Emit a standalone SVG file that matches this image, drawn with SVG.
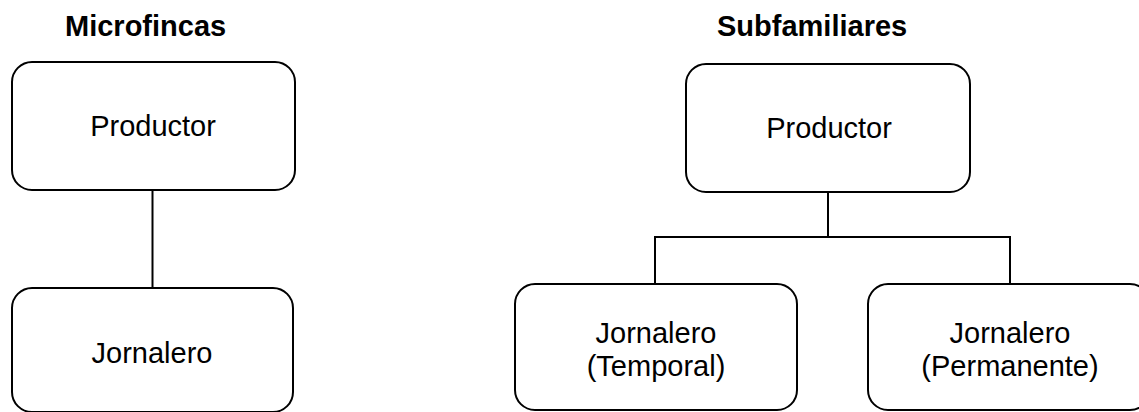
<svg xmlns="http://www.w3.org/2000/svg" width="1139" height="412" viewBox="0 0 1139 412">
<style>
.box{fill:#fff;stroke:#000;stroke-width:2}
.lbl{font-family:"Liberation Sans",Arial,sans-serif;font-size:29px;fill:#000;text-anchor:middle}
.title{font-family:"Liberation Sans",Arial,sans-serif;font-size:29px;font-weight:bold;fill:#000}
.conn{fill:none;stroke:#000;stroke-width:2}
</style>
<rect width="1139" height="412" fill="#fff"/>
<text class="title" x="65" y="36">Microfincas</text>
<text class="title" x="717" y="36">Subfamiliares</text>
<g id="connectors">
<line class="conn" x1="152.5" y1="190" x2="152.5" y2="288"/>
<polyline class="conn" points="828,192 828,237"/>
<polyline class="conn" points="655,284 655,237 1010,237 1010,284"/>
</g>
<g id="mf-productor">
<rect class="box" x="12" y="62" width="283" height="128" rx="20"/>
<text class="lbl" x="153" y="136">Productor</text>
</g>
<g id="mf-jornalero">
<rect class="box" x="12" y="288" width="281" height="124" rx="20"/>
<text class="lbl" x="152" y="363">Jornalero</text>
</g>
<g id="sf-productor">
<rect class="box" x="686" y="64" width="284" height="128" rx="20"/>
<text class="lbl" x="829" y="138">Productor</text>
</g>
<g id="sf-temporal">
<rect class="box" x="515" y="284" width="282" height="126" rx="20"/>
<text class="lbl" x="656" y="343">Jornalero</text>
<text class="lbl" x="656" y="376">(Temporal)</text>
</g>
<g id="sf-permanente">
<rect class="box" x="868" y="284" width="282" height="126" rx="20"/>
<text class="lbl" x="1010" y="343">Jornalero</text>
<text class="lbl" x="1010" y="376">(Permanente)</text>
</g>
</svg>
